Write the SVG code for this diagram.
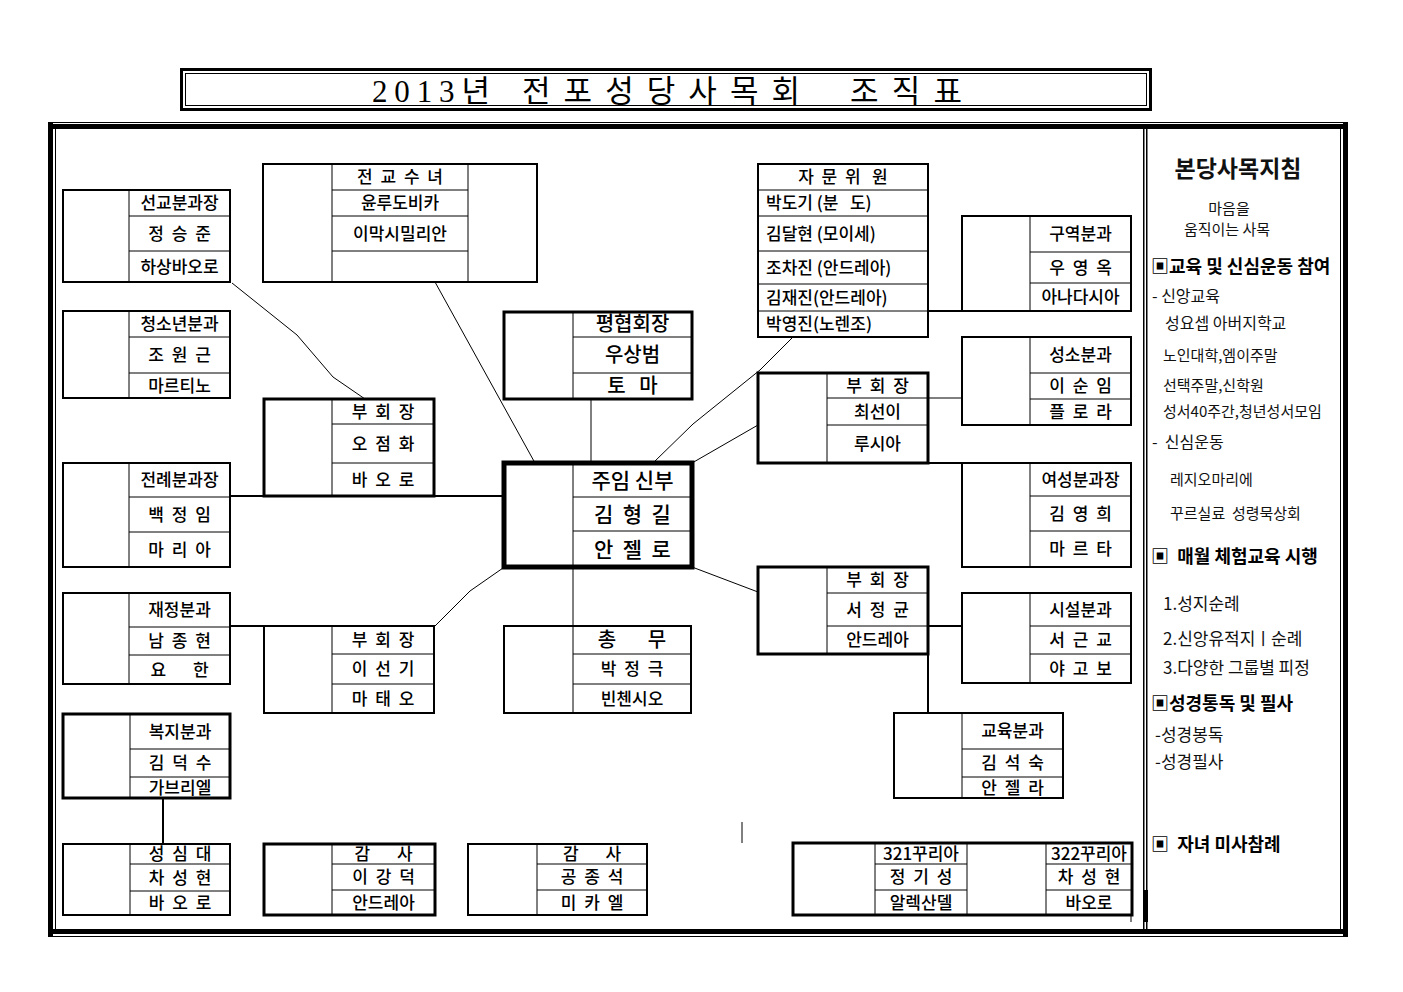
<svg xmlns="http://www.w3.org/2000/svg" width="1403" height="992" viewBox="0 0 1403 992">
<style>
.b2{fill:#fff;stroke:#000;stroke-width:2}
.b3{fill:#fff;stroke:#000;stroke-width:3}
.b5{fill:#fff;stroke:#000;stroke-width:5}
.ln{fill:none;stroke:#000;stroke-width:1}
.c1{fill:none;stroke:#000;stroke-width:1}
.c2{fill:none;stroke:#000;stroke-width:2}
.t{font-family:"Noto Sans CJK KR","Noto Sans",sans-serif;font-size:17px;font-weight:500;text-anchor:middle;fill:#000}
.tl{font-family:"Noto Sans CJK KR","Noto Sans",sans-serif;font-size:17px;font-weight:500;fill:#000}
.sp{letter-spacing:2px}
.big{font-size:21px}
.mid{font-size:20px}
.p{font-family:"Noto Sans CJK KR","Noto Sans",sans-serif;fill:#111}
.h{font-weight:bold;font-size:18px;fill:#000}
.s15{font-size:15px}
.s16{font-size:16px}
.s17{font-size:17px}
</style>
<rect width="1403" height="992" fill="#fff"/>

<g id="title">
<rect x="181.5" y="69.5" width="969" height="40" fill="#fff" stroke="#000" stroke-width="3"/>
<rect x="185.5" y="73.5" width="961" height="32" fill="none" stroke="#000" stroke-width="1"/>
<text y="102" font-family="Liberation Serif,Noto Sans CJK KR,serif" font-size="31" fill="#000"><tspan x="372" textLength="118" lengthAdjust="spacing">2013년</tspan><tspan x="522" textLength="278" lengthAdjust="spacing">전포성당사목회</tspan><tspan x="850" textLength="112" lengthAdjust="spacing">조직표</tspan></text>
</g>

<g id="frame">
<rect x="48" y="122" width="1300" height="1" fill="#000"/>
<rect x="48" y="124" width="1300" height="5" fill="#000"/>
<rect x="48" y="929" width="1300" height="5" fill="#000"/>
<rect x="48" y="936" width="1300" height="1" fill="#000"/>
<rect x="48" y="122" width="5" height="815" fill="#000"/>
<rect x="55" y="129" width="1" height="800" fill="#000"/>
<rect x="1340" y="129" width="1" height="800" fill="#000"/>
<rect x="1343" y="122" width="5" height="815" fill="#000"/>
<rect x="1143" y="129" width="1.5" height="800" fill="#000"/>
<rect x="1146" y="129" width="1.5" height="800" fill="#000"/>
<rect x="1143" y="890" width="5" height="32" fill="#000"/>
</g>

<g id="connectors">
<polyline class="c1" points="232,283 297,335 333,377 365,399"/>
<line class="c1" x1="435" y1="282" x2="535" y2="463"/>
<line class="c1" x1="591" y1="399" x2="591" y2="463"/>
<line class="c2" x1="230" y1="496" x2="264" y2="496"/>
<line class="c2" x1="434" y1="496" x2="504" y2="496"/>
<line class="c2" x1="230" y1="626" x2="264" y2="626"/>
<polyline class="c1" points="503,568 470,591 435,626"/>
<line class="c1" x1="573" y1="567" x2="573" y2="626"/>
<line class="c2" x1="163" y1="798" x2="163" y2="844"/>
<polyline class="c1" points="654,462 693,424 760,370 793,337"/>
<line class="c1" x1="692" y1="463" x2="758" y2="425"/>
<line class="c1" x1="692" y1="567" x2="758" y2="592"/>
<line class="c2" x1="928" y1="311" x2="962" y2="311"/>
<line class="c1" x1="928" y1="398" x2="962" y2="398"/>
<line class="c2" x1="928" y1="463" x2="962" y2="463"/>
<line class="c2" x1="928" y1="626" x2="962" y2="626"/>
<line class="c2" x1="928" y1="654" x2="928" y2="713"/>
<line class="c1" x1="742" y1="822" x2="742" y2="843"/>
<line class="c1" x1="1131" y1="915" x2="1131" y2="922"/>
</g>

<g id="n-seongyo">
<rect class="b2" x="63" y="190" width="167" height="92"/>
<path class="ln" d="M129 190V282M129 216H230M129 251H230"/>
<text class="t" x="179.5" y="209">선교분과장</text>
<text class="t sp" x="180.5" y="240">정 승 준</text>
<text class="t" x="179.5" y="273">하상바오로</text>
</g>

<g id="n-cheongsonyeon">
<rect class="b2" x="63" y="311" width="167" height="87"/>
<path class="ln" d="M129 311V398M129 337H230M129 373H230"/>
<text class="t" x="179.5" y="330">청소년분과</text>
<text class="t sp" x="180.5" y="361">조 원 근</text>
<text class="t" x="179.5" y="392">마르티노</text>
</g>

<g id="n-jeongyo">
<rect class="b2" x="263" y="164" width="274" height="118"/>
<path class="ln" d="M332 164V282M468 164V282M332 190H468M332 216H468M332 251H468"/>
<text class="t sp" x="401" y="183">전 교 수 녀</text>
<text class="t" x="400" y="209">윤루도비카</text>
<text class="t" x="400" y="240">이막시밀리안</text>
</g>

<g id="n-pyeonghyeop">
<rect class="b3" x="504" y="312" width="188" height="87"/>
<path class="ln" d="M573 312V399M573 337H692M573 373H692"/>
<text class="t mid" x="632.5" y="331">평협회장</text>
<text class="t mid" x="632.5" y="362">우상범</text>
<text class="t mid" x="632.5" y="393" xml:space="preserve">토   마</text>
</g>

<g id="n-vice1">
<rect class="b3" x="264" y="399" width="170" height="97"/>
<path class="ln" d="M332 399V496M332 424H434M332 463H434"/>
<text class="t sp" x="384" y="417.5">부 회 장</text>
<text class="t sp" x="384" y="449.5">오 점 화</text>
<text class="t sp" x="384" y="485.5" fill="#333" font-weight="normal">바 오 로</text>
</g>

<g id="n-jeollye">
<rect class="b2" x="63" y="463" width="167" height="104"/>
<path class="ln" d="M129 463V567M129 497H230M129 532H230"/>
<text class="t" x="179.5" y="486">전례분과장</text>
<text class="t sp" x="180.5" y="520.5">백 정 임</text>
<text class="t sp" x="180.5" y="555.5">마 리 아</text>
</g>

<g id="n-jaejeong">
<rect class="b2" x="63" y="593" width="167" height="91"/>
<path class="ln" d="M129 593V684M129 627H230M129 655H230"/>
<text class="t" x="179.5" y="616">재정분과</text>
<text class="t sp" x="180.5" y="647">남 종 현</text>
<text class="t" x="179.5" y="675.5" xml:space="preserve">요       한</text>
</g>

<g id="n-vice2">
<rect class="b2" x="264" y="626" width="170" height="87"/>
<path class="ln" d="M332 626V713M332 654H434M332 684H434"/>
<text class="t sp" x="384" y="646">부 회 장</text>
<text class="t sp" x="384" y="675">이 선 기</text>
<text class="t sp" x="384" y="704.5">마 태 오</text>
</g>

<g id="n-bokji">
<rect class="b3" x="63" y="714" width="167" height="84"/>
<path class="ln" d="M130 714V798M130 749H230M130 777H230"/>
<text class="t" x="180" y="737.5">복지분과</text>
<text class="t sp" x="181" y="769">김 덕 수</text>
<text class="t" x="180" y="793.5">가브리엘</text>
</g>

<g id="n-seongsim">
<rect class="b2" x="63" y="844" width="167" height="71"/>
<path class="ln" d="M130 844V915M130 864H230M130 891H230"/>
<text class="t sp" x="181" y="860">성 심 대</text>
<text class="t sp" x="181" y="883.5">차 성 현</text>
<text class="t sp" x="181" y="909">바 오 로</text>
</g>

<g id="n-gamsa1">
<rect class="b3" x="264" y="844" width="171" height="71"/>
<path class="ln" d="M332 844V915M332 864H435M332 890H435"/>
<text class="t" x="383.5" y="860" xml:space="preserve">감       사</text>
<text class="t sp" x="384.5" y="883">이 강 덕</text>
<text class="t" x="383.5" y="908.5">안드레아</text>
</g>

<g id="n-gamsa2">
<rect class="b2" x="468" y="844" width="179" height="71"/>
<path class="ln" d="M537 844V915M537 864H647M537 890H647"/>
<text class="t" x="592" y="860" xml:space="preserve">감       사</text>
<text class="t sp" x="593" y="883">공 종 석</text>
<text class="t sp" x="593" y="908.5">미 카 엘</text>
</g>

<g id="n-center">
<rect class="b5" x="504" y="463" width="188" height="104"/>
<path class="ln" d="M573 463V567M573 497H692M573 531H692"/>
<text class="t big" x="632.5" y="487.5">주임 신부</text>
<text class="t big" x="632.5" y="521.5" xml:space="preserve">김  형  길</text>
<text class="t big" x="632.5" y="556.5" xml:space="preserve">안  젤  로</text>
</g>

<g id="n-chongmu">
<rect class="b2" x="504" y="626" width="187" height="87"/>
<path class="ln" d="M573 626V713M573 654H691M573 684H691"/>
<text class="t mid" x="632" y="647" xml:space="preserve">총       무</text>
<text class="t sp" x="633" y="675">박 정 극</text>
<text class="t" x="632" y="704.5">빈첸시오</text>
</g>

<g id="n-jamun">
<rect class="b2" x="758" y="164" width="170" height="173"/>
<path class="ln" d="M758 190H928M758 216H928M758 251H928M758 284H928M758 311H928"/>
<text class="t" x="843" y="183" xml:space="preserve">자  문  위   원</text>
<text class="tl" x="766" y="209" xml:space="preserve">박도기 (분   도)</text>
<text class="tl" x="766" y="240">김달현 (모이세)</text>
<text class="tl" x="766" y="273.5">조차진 (안드레아)</text>
<text class="tl" x="766" y="303.5">김재진(안드레아)</text>
<text class="tl" x="766" y="330">박영진(노렌조)</text>
</g>

<g id="n-guyeok">
<rect class="b2" x="962" y="216" width="169" height="95"/>
<path class="ln" d="M1030 216V311M1030 252H1131M1030 283H1131"/>
<text class="t" x="1080.5" y="240">구역분과</text>
<text class="t sp" x="1081.5" y="273.5">우 영 옥</text>
<text class="t" x="1080.5" y="303">아나다시아</text>
</g>

<g id="n-seongso">
<rect class="b2" x="962" y="337" width="169" height="88"/>
<path class="ln" d="M1030 337V425M1030 373H1131M1030 399H1131"/>
<text class="t" x="1080.5" y="361">성소분과</text>
<text class="t sp" x="1081.5" y="392">이 순 임</text>
<text class="t sp" x="1081.5" y="418">플 로 라</text>
</g>

<g id="n-vice3">
<rect class="b3" x="758" y="373" width="170" height="90"/>
<path class="ln" d="M827 373V463M827 398H928M827 425H928"/>
<text class="t sp" x="878.5" y="391.5">부 회 장</text>
<text class="t" x="877.5" y="417.5">최선이</text>
<text class="t" x="877.5" y="450">루시아</text>
</g>

<g id="n-yeoseong">
<rect class="b2" x="962" y="463" width="169" height="104"/>
<path class="ln" d="M1030 463V567M1030 496H1131M1030 531H1131"/>
<text class="t" x="1080.5" y="485.5">여성분과장</text>
<text class="t sp" x="1081.5" y="519.5">김 영 희</text>
<text class="t sp" x="1081.5" y="555">마 르 타</text>
</g>

<g id="n-vice4">
<rect class="b3" x="758" y="567" width="170" height="87"/>
<path class="ln" d="M827 567V654M827 593H928M827 626H928"/>
<text class="t sp" x="878.5" y="586">부 회 장</text>
<text class="t sp" x="878.5" y="615.5">서 정 균</text>
<text class="t" x="877.5" y="646">안드레아</text>
</g>

<g id="n-siseol">
<rect class="b2" x="962" y="593" width="169" height="90"/>
<path class="ln" d="M1030 593V683M1030 626H1131M1030 654H1131"/>
<text class="t" x="1080.5" y="615.5">시설분과</text>
<text class="t sp" x="1081.5" y="646">서 근 교</text>
<text class="t sp" x="1081.5" y="674.5">야 고 보</text>
</g>

<g id="n-gyoyuk">
<rect class="b2" x="894" y="713" width="169" height="85"/>
<path class="ln" d="M962 713V798M962 749H1063M962 777H1063"/>
<text class="t" x="1012.5" y="737">교육분과</text>
<text class="t sp" x="1013.5" y="769">김 석 숙</text>
<text class="t sp" x="1013.5" y="793.5">안 젤 라</text>
</g>

<g id="n-curia">
<rect class="b3" x="793" y="843" width="339" height="72"/>
<path class="ln" d="M875 843V915M967 843V915M1046 843V915M875 864H967M875 890H967M1046 864H1132M1046 890H1132"/>
<text class="t" x="921" y="860">321꾸리아</text>
<text class="t sp" x="922" y="883">정 기 성</text>
<text class="t" x="921" y="908.5">알렉산델</text>
<text class="t" x="1089" y="860">322꾸리아</text>
<text class="t sp" x="1090" y="883">차 성 현</text>
<text class="t" x="1089" y="908.5">바오로</text>
</g>

<g id="panel">
<text class="p" x="1238" y="177" font-size="23" font-weight="bold" text-anchor="middle">본당사목지침</text>
<text class="p s15" x="1229" y="214" text-anchor="middle">마음을</text>
<text class="p s15" x="1227" y="235" text-anchor="middle">움직이는 사목</text>
<text class="p h" x="1151" y="273">▣교육 및 신심운동 참여</text>
<text class="p s16" x="1152" y="302">- 신앙교육</text>
<text class="p s16" x="1165" y="329">성요셉 아버지학교</text>
<text class="p s15" x="1163" y="361">노인대학,엠이주말</text>
<text class="p s15" x="1163" y="391">선택주말,신학원</text>
<text class="p s15" x="1163" y="417">성서40주간,청년성서모임</text>
<text class="p s16" x="1152" y="448" xml:space="preserve">-  신심운동</text>
<text class="p s15" x="1170" y="485">레지오마리에</text>
<text class="p s15" x="1170" y="519" xml:space="preserve">꾸르실료  성령묵상회</text>
<text class="p h" x="1151" y="563" xml:space="preserve">▣  매월 체험교육 시행</text>
<text class="p s17" x="1163" y="610">1.성지순례</text>
<text class="p s17" x="1163" y="645">2.신앙유적지ㅣ순례</text>
<text class="p s17" x="1163" y="674">3.다양한 그룹별 피정</text>
<text class="p h" x="1151" y="710">▣성경통독 및 필사</text>
<text class="p s17" x="1155" y="741">-성경봉독</text>
<text class="p s17" x="1155" y="768">-성경필사</text>
<text class="p h" x="1151" y="851" xml:space="preserve">▣  자녀 미사참례</text>
</g>
</svg>
